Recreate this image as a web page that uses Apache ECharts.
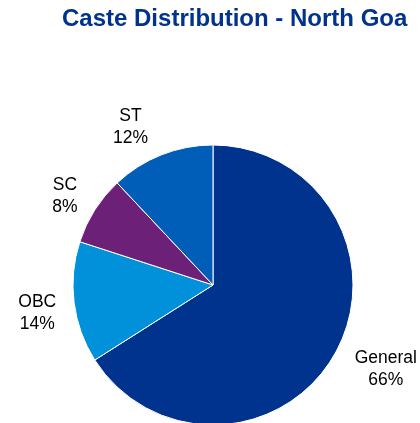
<!DOCTYPE html>
<html>
<head>
<meta charset="utf-8">
<script src="https://cdn.jsdelivr.net/npm/echarts@6/dist/echarts.min.js"></script>
<style>
  html, body { margin: 0; padding: 0; background: #fff; }
  #main { width: 420px; height: 423px; }
</style>
</head>
<body>
<div id="main"></div>
<script>
// chart data
var categories = ['General', 'OBC', 'SC', 'ST'];
var shares = [66, 14, 8, 12];
var colors = ['#00338D', '#0091DA', '#6D2077', '#005EB8'];

// small nudges so the outside labels sit where the original puts them
var labelShift = [[-0.5, 11], [3, 9], [2, -7], [0, -17]];

var myChart = echarts.init(document.getElementById('main'));

var option = {
  animation: false,
  title: {
    text: 'Caste Distribution - North Goa',
    left: 62,
    top: 7,
    padding: 0,
    textStyle: {
      fontFamily: 'Liberation Sans, Arial, sans-serif',
      fontSize: 24,
      fontWeight: 'bold',
      color: '#00338D'
    }
  },
  series: [
    {
      name: 'Caste',
      type: 'pie',
      center: [213, 285],
      radius: 140,
      startAngle: 90,
      clockwise: true,
      itemStyle: { borderColor: '#fff', borderWidth: 1 },
      label: {
        show: true,
        position: 'outside',
        formatter: '{b}\n{c}%',
        fontFamily: 'Liberation Sans, Arial, sans-serif',
        fontSize: 17.5,
        lineHeight: 22,
        color: '#000',
        overflow: 'none'
      },
      labelLine: { show: false, length: 12, length2: 4 },
      labelLayout: function (params) {
        var s = labelShift[params.dataIndex];
        var r = params.labelRect;
        return {
          x: r.x + r.width / 2 + s[0],
          y: r.y + r.height / 2 + s[1],
          align: 'center',
          verticalAlign: 'middle'
        };
      },
      data: categories.map(function (c, i) {
        return { name: c, value: shares[i], itemStyle: { color: colors[i] } };
      })
    }
  ]
};

myChart.setOption(option);
window.addEventListener('resize', myChart.resize);
</script>
</body>
</html>
